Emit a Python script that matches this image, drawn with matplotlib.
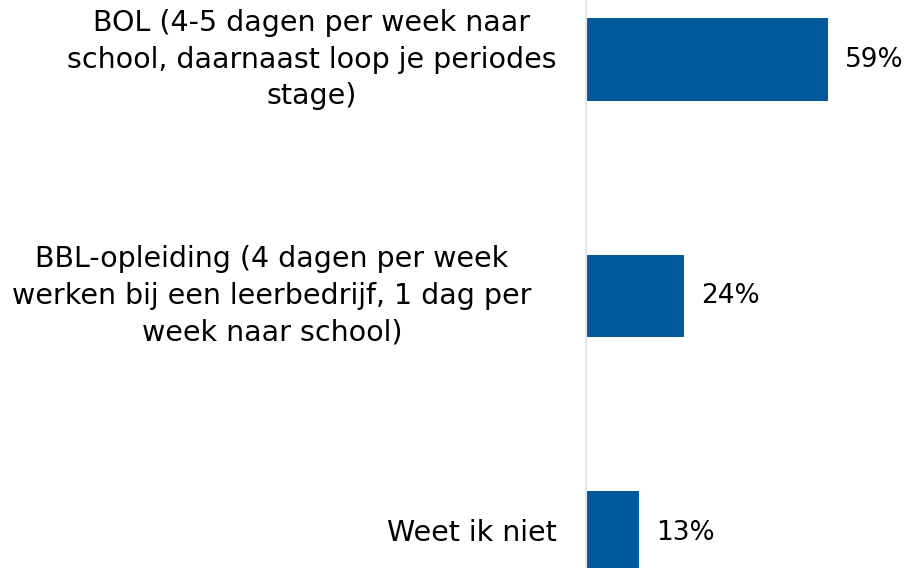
import matplotlib.pyplot as plt

# Data
categories = [
    "BOL (4-5 dagen per week naar\nschool, daarnaast loop je periodes\nstage)",
    "BBL-opleiding (4 dagen per week\nwerken bij een leerbedrijf, 1 dag per\nweek naar school)",
    "Weet ik niet",
]
values = [59, 24, 13]
value_labels = ["59%", "24%", "13%"]

plt.rcParams['font.family'] = ['DejaVu Sans']

fig = plt.figure(figsize=(9.14, 5.68), dpi=100)
ax = fig.add_axes([586 / 914, 0, 326 / 914, 1])

pos = list(range(len(categories)))
ax.barh(pos, values, height=0.35, color="#02599C")

ax.set_xlim(0, 79.5)
ax.set_ylim(2.15, -0.2516)
ax.set_xticks([])
ax.set_yticks([])

for s in ["top", "right", "bottom"]:
    ax.spines[s].set_visible(False)
ax.spines["left"].set_color("#e6e6e6")
ax.spines["left"].set_linewidth(1.5)

# category labels: right-aligned blocks, lines centred within each block
for i, (p, cat) in enumerate(zip(pos, categories)):
    off = -39 if i == 1 else -21
    ax.annotate(cat, (0, p), xytext=(off, 0), textcoords="offset points",
                va="center", ha="right", multialignment="center",
                fontsize=20.5, linespacing=1.4, annotation_clip=False)

for p, v, lab in zip(pos, values, value_labels):
    ax.annotate(lab, (v, p), xytext=(12, 0), textcoords="offset points",
                va="center", ha="left", fontsize=19)

fig.savefig("out.png", dpi=100)
